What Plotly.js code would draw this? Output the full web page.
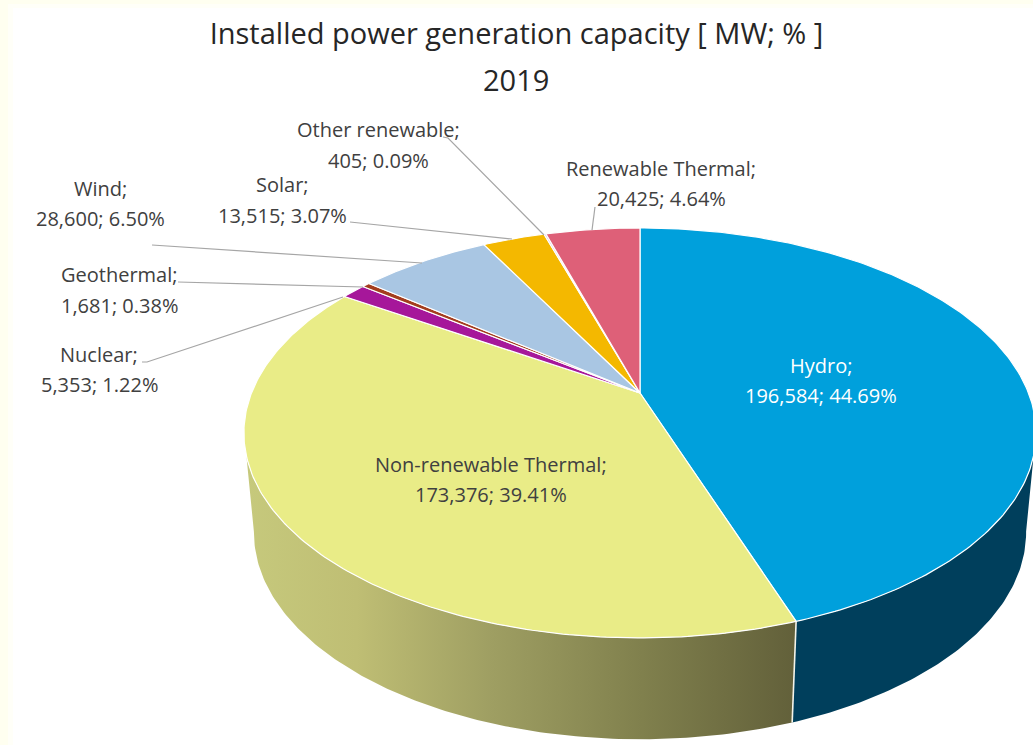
<!DOCTYPE html>
<html>
<head>
<meta charset="utf-8">
<script src="https://cdn.plot.ly/plotly-3.0.1.min.js"></script>
<style>html,body{margin:0;padding:0;background:#fff;overflow:hidden}#chart{width:1033px;height:745px}</style>
</head>
<body>
<div id="chart"></div>
<script>
// ---- data ----
const categories = ["Hydro","Non-renewable Thermal","Nuclear","Geothermal","Wind","Solar","Other renewable","Renewable Thermal"];
const capacityMW = [196584,173376,5353,1681,28600,13515,405,20425];
const sharePct = ["44.69","39.41","1.22","0.38","6.50","3.07","0.09","4.64"];
const titleLine = "Installed power generation capacity [ MW; % ]";
const yearLine = "2019";

// ---- styles ----
const topColors = ["#00A0DC","#E9EC87","#A6179A","#A33D1E","#A9C6E3","#F4B800","#C9A6D6","#DE6078"];
const textColors = {Hydro:"#FFFFFF"};
const FONT = "Open Sans, sans-serif";
const labelSize = 20;
const titleSize = 29;

// ---- label placement (page pixels: centre x, first line y, second line y) ----
const labelPos = [[821,365,395],[491,464,494],[99,354,384],[119,274,305],[100,188,218],[282,184,215],[378,129,160],[661,168,198]];
const leaders = [
  null,null,
  [[142,362],[147,362],[343,297]],
  [[178,282],[363,287]],
  [[152,245],[422,263]],
  [[350,222],[512,239]],
  [[443,137],[448,138],[544,235]],
  [[595,207],[592,230]]
];

// ---- projection of the tilted disc ----
const CX=640, K=0.195;
const TOP={A:393,B:197.2,R:388.5}, BOT={A:492,B:199,R:378.7};
function proj(deg,p){
  const t=deg*Math.PI/180,u=Math.sin(t),v=Math.cos(t),s=1/(1+K*v);
  return [CX+p.R*u*s,p.A-p.B*v*s];
}
function arc(a,b,p){
  const n=Math.max(2,Math.ceil(Math.abs(b-a)/0.75)),o=[];
  for(let i=0;i<=n;i++)o.push(proj(a+(b-a)*i/n,p));
  return o;
}
const total=capacityMW.reduce((a,b)=>a+b,0);
let cum=0;
const angles=capacityMW.map(v=>{const a=cum/total*360;cum+=v;return [a,cum/total*360];});

function poly(pts,extra){
  return Object.assign({x:pts.map(p=>p[0]),y:pts.map(p=>p[1]),type:"scatter",mode:"lines",fill:"toself",hoverinfo:"skip",showlegend:false},extra);
}
const traces=[];
// side walls (only the part facing the viewer)
const split=angles[0][1];
const wallR=arc(107.5,split,TOP).concat(arc(split,101,BOT));
const wallL=arc(split,252.5,TOP).concat(arc(259,split,BOT));
traces.push(poly(wallR,{name:categories[0]+" side",fillcolor:"#003F5C",line:{width:0,color:"#003F5C"}}));
traces.push(poly(wallL,{name:categories[1]+" side",line:{width:0,color:"#8f8f55"},
  fillgradient:{type:"horizontal",colorscale:[[0,"#C6C97C"],[0.2,"#BFBE74"],[0.45,"#9E9E62"],[0.72,"#80804D"],[1,"#62603A"]]}}));
// white seam between the walls
const seam=[proj(split,TOP),proj(split,BOT)];
traces.push({x:seam.map(p=>p[0]),y:seam.map(p=>p[1]),type:"scatter",mode:"lines",line:{color:"#F4F4EA",width:1.6},hoverinfo:"skip",showlegend:false});
// top face slices
capacityMW.forEach((v,i)=>{
  const pts=[[CX,TOP.A]].concat(arc(angles[i][0],angles[i][1],TOP));pts.push([CX,TOP.A]);
  traces.push(poly(pts,{name:categories[i],fillcolor:topColors[i],line:{color:"#FFFFFF",width:1.2}}));
});
// ---- text ----
const annotations=[{text:yearLine,x:516,y:79,xref:"x",yref:"y",xanchor:"center",yanchor:"middle",showarrow:false,font:{family:FONT,size:titleSize,color:"#262626"}}];
categories.forEach((c,i)=>{
  const line2=capacityMW[i].toLocaleString("en-US")+"; "+sharePct[i]+"%";
  const col=textColors[c]||"#404040";
  [c+";",line2].forEach((t,j)=>annotations.push({text:t,x:labelPos[i][0],y:labelPos[i][j+1],xref:"x",yref:"y",xanchor:"center",yanchor:"middle",showarrow:false,font:{family:FONT,size:labelSize,color:col}}));
});
const shapes=[
  {type:"rect",xref:"x",yref:"y",x0:8,y0:4,x1:1033,y1:745,fillcolor:"#FFFFF8",line:{width:0},layer:"below"},
  {type:"rect",xref:"x",yref:"y",x0:13,y0:8,x1:1033,y1:745,fillcolor:"#FFFFFF",line:{width:0},layer:"below"}
];
leaders.forEach(l=>{
  if(!l)return;
  shapes.push({type:"path",xref:"x",yref:"y",path:l.map((p,i)=>(i?"L":"M")+p[0]+","+p[1]).join(" "),line:{color:"#A6A6A6",width:1.2},layer:"above"});
});
const axis={visible:false,fixedrange:true,showgrid:false,zeroline:false};
Plotly.newPlot("chart",traces,{
  width:1033,height:745,margin:{l:0,r:0,t:0,b:0},
  paper_bgcolor:"#FFFFF0",plot_bgcolor:"rgba(0,0,0,0)",showlegend:false,hovermode:false,
  title:{text:titleLine,font:{family:FONT,size:titleSize,color:"#262626"},x:0.5,xanchor:"center",y:0.9544,yanchor:"middle",xref:"paper",yref:"container"},
  xaxis:Object.assign({range:[0,1033]},axis),
  yaxis:Object.assign({range:[745,0]},axis),
  annotations,shapes
},{displayModeBar:false,staticPlot:true});
</script>
</body>
</html>
